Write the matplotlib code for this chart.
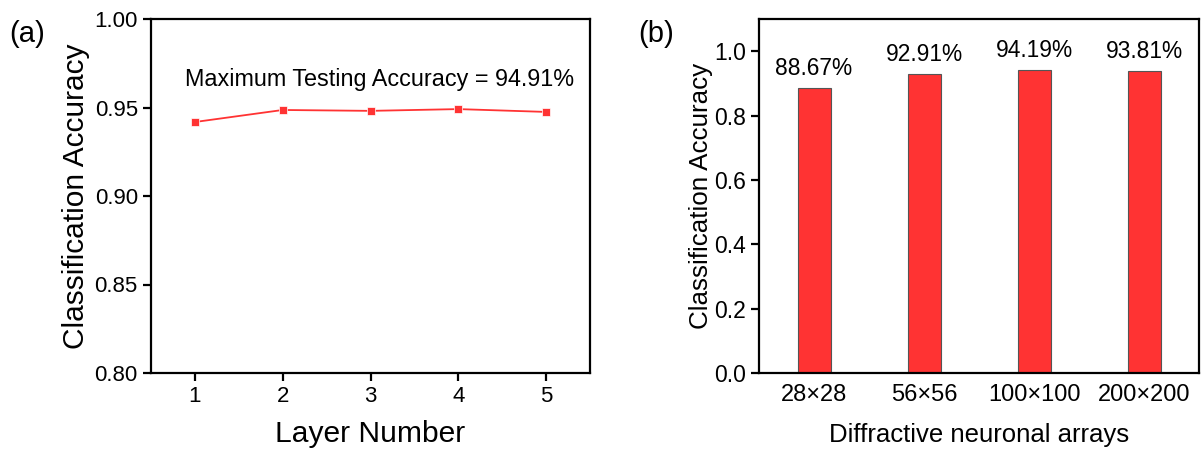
import matplotlib.pyplot as plt
import numpy as np

plt.rcParams['font.family'] = ['Liberation Sans', 'DejaVu Sans']

# Panel (a): accuracy vs number of layers
layers = [1, 2, 3, 4, 5]
layer_acc = [0.9418, 0.9486, 0.9481, 0.9491, 0.9475]

# Panel (b): accuracy vs array size
arrays = ['28×28', '56×56', '100×100', '200×200']
array_acc = [0.8867, 0.9291, 0.9419, 0.9381]
array_labels = ['88.67%', '92.91%', '94.19%', '93.81%']

red = '#FF3333'

fig = plt.figure(figsize=(12.02, 4.49), dpi=100)
ax1 = fig.add_axes([151 / 1202, 1 - 373 / 449, 439 / 1202, 354 / 449])
ax2 = fig.add_axes([759 / 1202, 1 - 373 / 449, 440 / 1202, 354 / 449])

# (a) line plot
ax1.plot(layers, layer_acc, color=red, lw=1.3, marker='s', markersize=6,
         markeredgecolor='white', markeredgewidth=0.5)
ax1.set_xlim(0.5, 5.5)
ax1.set_ylim(0.80, 1.00)
ax1.set_xticks(layers)
ax1.set_yticks([0.80, 0.85, 0.90, 0.95, 1.00])
ax1.yaxis.set_major_formatter(plt.FormatStrFormatter('%.2f'))
ax1.set_xlabel('Layer Number', fontsize=21.6, labelpad=9)
ax1.set_ylabel('Classification Accuracy', fontsize=21.5, labelpad=3)
ax1.text(0.52, 0.83, 'Maximum Testing Accuracy = 94.91%', transform=ax1.transAxes,
         ha='center', va='center', fontsize=16.8)

# (b) bar chart
x = np.arange(len(arrays))
ax2.bar(x, array_acc, width=0.3, color=red, edgecolor='#555555', linewidth=0.8)
for xi, v, lab in zip(x, array_acc, array_labels):
    ax2.text(xi, v + 0.025, lab, ha='center', va='bottom', fontsize=16.4)
ax2.set_xlim(-0.5, 3.5)
ax2.set_ylim(0, 1.1)
ax2.set_xticks(x)
ax2.set_xticklabels(arrays)
ax2.set_yticks([0.0, 0.2, 0.4, 0.6, 0.8, 1.0])
ax2.yaxis.set_major_formatter(plt.FormatStrFormatter('%.1f'))
ax2.set_xlabel('Diffractive neuronal arrays', fontsize=18.5, labelpad=12)
ax2.set_ylabel('Classification Accuracy', fontsize=18.7, labelpad=1)

for ax in (ax1, ax2):
    for s in ax.spines.values():
        s.set_linewidth(1.6)
    ax.tick_params(direction='out', length=6, width=1.6, labelsize=16,
                   top=False, right=False)
ax2.tick_params(axis='x', length=0, labelsize=17, pad=8)
ax2.tick_params(axis='y', labelsize=16.5)

fig.text(9 / 1202, 1 - 34 / 449, '(a)', fontsize=21, va='center', ha='left')
fig.text(638 / 1202, 1 - 34 / 449, '(b)', fontsize=21, va='center', ha='left')

fig.savefig('out.png', dpi=100)
